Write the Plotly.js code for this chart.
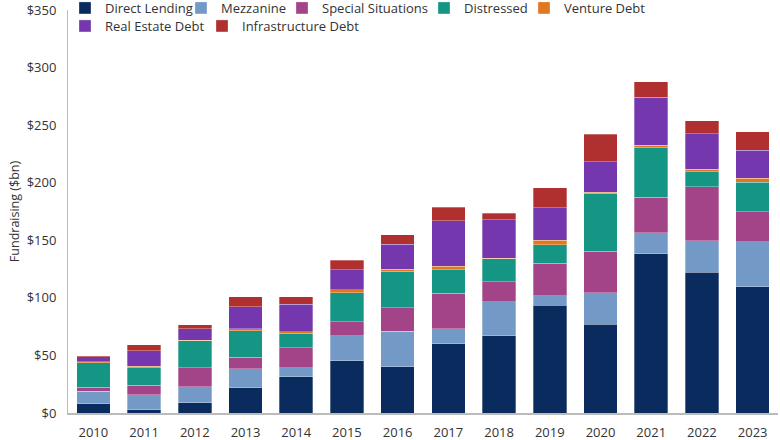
<!DOCTYPE html>
<html>
<head>
<meta charset="utf-8">
<script src="https://cdn.plot.ly/plotly-3.0.1.min.js"></script>
<style>html,body{margin:0;padding:0;background:#fff;}#chart{width:780px;height:440px;}</style>
</head>
<body>
<div id="chart"></div>
<script>
const years = ['2010','2011','2012','2013','2014','2015','2016','2017','2018','2019','2020','2021','2022','2023'];
const directLending = [8.0, 3.0, 8.8, 21.9, 31.4, 45.3, 40.3, 60.0, 67.2, 93.8, 77.0, 138.3, 122.1, 109.7];
const mezzanine = [10.9, 13.0, 14.2, 16.4, 8.1, 21.7, 30.6, 13.0, 29.5, 8.1, 27.5, 18.2, 27.5, 39.0];
const specialSituations = [3.5, 8.1, 16.5, 10.1, 17.3, 12.4, 20.6, 30.9, 17.4, 28.0, 35.9, 31.0, 46.8, 26.3];
const distressed = [21.1, 15.4, 23.1, 22.9, 12.4, 25.1, 31.5, 20.6, 20.0, 16.2, 50.3, 42.8, 13.3, 25.5];
const ventureDebt = [1.2, 1.1, 0.5, 1.9, 1.2, 2.6, 1.7, 2.8, 0.3, 3.8, 1.2, 2.3, 2.1, 3.5];
const realEstateDebt = [4.0, 13.3, 9.9, 19.2, 24.0, 17.1, 21.7, 39.7, 33.5, 28.3, 26.3, 41.6, 30.9, 24.3];
const infrastructureDebt = [0.9, 5.3, 3.5, 8.6, 6.6, 8.3, 8.4, 11.5, 5.5, 17.4, 24.0, 13.6, 11.2, 16.1];
const yTickVals = [0, 50, 100, 150, 200, 250, 300, 350];
const yTickText = ['$0', '$50', '$100', '$150', '$200', '$250', '$300', '$350'];

const seriesNames = ['Direct Lending','Mezzanine','Special Situations','Distressed','Venture Debt','Real Estate Debt','Infrastructure Debt'];
const seriesData = [directLending, mezzanine, specialSituations, distressed, ventureDebt, realEstateDebt, infrastructureDebt];
const colors = ['#0a2b5e','#7399c6','#a34489','#159684','#e07820','#7537ad','#b03030'];
const legendIds = ['legend','legend2','legend3','legend4','legend5','legend6','legend7'];

const traces = seriesNames.map((n, i) => ({
  type: 'bar', name: n, x: years, y: seriesData[i],
  marker: {color: colors[i], line: {color: 'rgba(255,255,255,0.6)', width: 0.5}},
  legend: legendIds[i]
}));

const font = {family: 'Open Sans, sans-serif', size: 13, color: '#333'};
// legend text-start pixel positions and row centers (container pixels)
const legPos = [[105,8],[221,8],[322,8],[464,8],[564,8],[105,26],[242,26]];
const W = 780, H = 440;
const plotL = 68, plotW = 710, plotT = 10, plotH = 403;
const layout = {
  width: W, height: H,
  margin: {l: plotL, r: W - plotL - plotW, t: plotT, b: H - plotT - plotH, autoexpand: false},
  paper_bgcolor: '#fff', plot_bgcolor: '#fff',
  barmode: 'stack', bargap: 0.34,
  font: font,
  showlegend: true,
  xaxis: {type: 'category', showline: true, linecolor: '#bbb', linewidth: 1.5, ticks: '', ticklabelstandoff: 7, tickfont: font, showgrid: false, zeroline: false, automargin: false},
  yaxis: {range: [0, 350], tickmode: 'array', tickvals: yTickVals, ticktext: yTickText, showline: true, linecolor: '#bbb', linewidth: 1, ticks: '', ticklabelstandoff: 8, showgrid: false, zeroline: false, tickfont: font, automargin: false,
          title: {text: 'Fundraising ($bn)', font: {family: 'Open Sans, sans-serif', size: 12.5, color: '#333'}, standoff: 4}}
};
legendIds.forEach((id, i) => {
  const [tx, ty] = legPos[i];
  layout[id] = {
    orientation: 'h', xref: 'container', yref: 'container', xanchor: 'left', yanchor: 'middle',
    x: (tx - 40) / W, y: 1 - ty / H,
    bgcolor: 'rgba(0,0,0,0)', borderwidth: 0, font: font, itemclick: false
  };
});
Plotly.newPlot('chart', traces, layout, {displayModeBar: false, staticPlot: true});
</script>
</body>
</html>
